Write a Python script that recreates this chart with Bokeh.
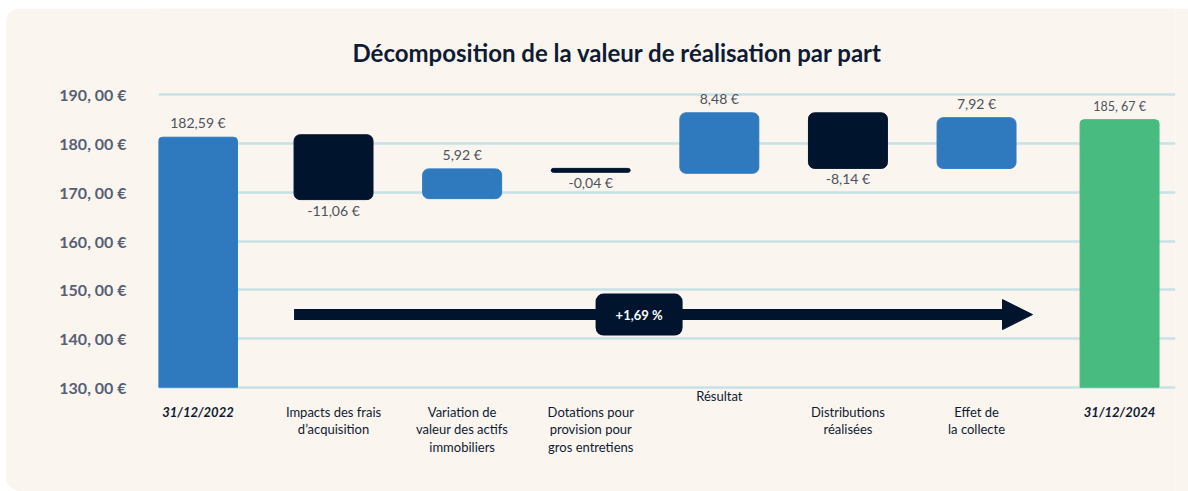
from bokeh.plotting import figure
from bokeh.models import (Range1d, FixedTicker, ColumnDataSource,
                          Label, Arrow, NormalHead)
from bokeh.embed import file_html
from bokeh.resources import INLINE
from bokeh.core.properties import value

# ---------------- data ----------------
title = "Décomposition de la valeur de réalisation par part"
categories = [
    "31/12/2022",
    "Impacts des frais\nd’acquisition",
    "Variation de\nvaleur des actifs\nimmobiliers",
    "Dotations pour\nprovision pour\ngros entretiens",
    "Résultat",
    "Distributions\nréalisées",
    "Effet de\nla collecte",
    "31/12/2024",
]
groups = ["start", "flux", "flux", "flux", "flux", "flux", "flux", "end"]
values = [182.59, -11.06, 5.92, -0.04, 8.48, -8.14, 7.92, 185.67]
# bar extents as drawn in the (schematic) picture
bar_top = [181.3, 181.8, 174.8, 174.9, 186.3, 186.3, 185.3, 184.9]
bar_bottom = [130.0, 168.5, 168.7, 174.1, 173.9, 174.9, 174.9, 130.0]
y_ticks = [130, 140, 150, 160, 170, 180, 190]
y_tick_labels = ["130, 00 €", "140, 00 €", "150, 00 €", "160, 00 €",
                 "170, 00 €", "180, 00 €", "190, 00 €"]

# ---------------- style ----------------
FONT = "Lato"
BLUE = "#2f7abf"
NAVY = "#00142e"
GREEN = "#48bb80"
CREAM = "#faf5ef"
GRID = "#c6e2e7"
TXT = "#4d535c"
AX = "#566075"
DARK = "#0f1b33"

GAP = {"start": 0.0, "flux": 0.054, "end": 0.166}   # cumulative group gaps
PAD_L = 0.307      # frame padding left of first slot centre
PAD_R = 0.435      # frame padding right of last slot centre
BAR_W = 0.614
ARROW_Y = 144.9

def fmt(v):
    s = f"{abs(v):.2f}".replace(".", ",")
    return ("-" if v < 0 else "") + s + " €"

# category slot positions on the x scale (one slot per category, group gaps)
xpos = [0.5 + i + GAP[g] for i, g in enumerate(groups)]

colors = []
for i, v in enumerate(values):
    if groups[i] == "end":
        colors.append(GREEN)
    elif groups[i] == "flux" and v < 0:
        colors.append(NAVY)
    else:
        colors.append(BLUE)

labels = [fmt(v) for v in values]
labels[-1] = f"{values[-1]:.2f}".replace(".", ", ") + " €"

xr = Range1d(start=xpos[0] - PAD_L, end=xpos[-1] + PAD_R)

p = figure(width=1183, height=483, x_range=xr, y_range=Range1d(108.60, 207.71),
           output_backend="svg", toolbar_location=None, x_axis_location=None,
           min_border_left=153, min_border_right=13, min_border_top=0,
           min_border_bottom=0, background_fill_color=CREAM,
           border_fill_color=CREAM, outline_line_color=None)
p.margin = (8, 0, 0, 5)
p.styles = {"border-radius": "16px 0 0 16px", "overflow": "hidden"}
p.xgrid.visible = False

# y axis
p.yaxis.ticker = FixedTicker(ticks=y_ticks)
p.yaxis.major_label_overrides = {t: l for t, l in zip(y_ticks, y_tick_labels)}
p.yaxis.axis_line_color = None
p.yaxis.major_tick_line_color = None
p.yaxis.minor_tick_line_color = None
p.yaxis.major_label_standoff = 26
p.yaxis.major_label_text_font = FONT
p.yaxis.major_label_text_font_size = "16px"
p.yaxis.major_label_text_font_style = "bold"
p.yaxis.major_label_text_color = AX
p.ygrid.grid_line_color = GRID
p.ygrid.grid_line_width = 2.5

# bars
ends = [i for i, g in enumerate(groups) if g != "flux"]
mids = [i for i, g in enumerate(groups) if g == "flux"]
def sub(idx):
    return ColumnDataSource(dict(
        x=[xpos[i] for i in idx], top=[bar_top[i] for i in idx],
        bottom=[bar_bottom[i] for i in idx], color=[colors[i] for i in idx],
        label=[labels[i] for i in idx], cat=[categories[i] for i in idx]))
p.vbar(x="x", top="top", bottom="bottom", width=BAR_W, color="color",
       border_radius=(4, 4, 0, 0), source=sub(ends))
p.vbar(x="x", top="top", bottom="bottom", width=BAR_W, color="color",
       border_radius=6, source=sub(mids))

# value labels
above = [i for i, v in enumerate(values) if groups[i] != "flux" or v >= 0]
below = [i for i, v in enumerate(values) if groups[i] == "flux" and v < 0]
src_a = ColumnDataSource(dict(
    x=[xpos[i] for i in above], y=[bar_top[i] for i in above],
    t=[labels[i] for i in above],
    fs=["12.5px" if groups[i] == "end" else "14px" for i in above]))
p.text(x="x", y="y", text="t", source=src_a, text_align="center",
       text_baseline="bottom", y_offset=-6, text_font=value(FONT),
       text_font_size="fs", text_color=TXT)
src_b = ColumnDataSource(dict(
    x=[xpos[i] for i in below], y=[bar_bottom[i] for i in below],
    t=[labels[i] for i in below]))
p.text(x="x", y="y", text="t", source=src_b, text_align="center",
       text_baseline="top", y_offset=2, text_font=value(FONT),
       text_font_size="14px", text_color=TXT)

# category labels (acting as x axis)
CAT_Y = 126.65
lab_dy = [-16 if c == "Résultat" else 0 for c in categories]
src_d = ColumnDataSource(dict(x=[xpos[i] for i in ends],
                              t=[categories[i] for i in ends]))
p.text(x="x", y=CAT_Y, text="t", source=src_d, text_align="center",
       text_baseline="top", text_font=value(FONT), text_font_size="13px",
       text_font_style="bold italic", text_color=DARK)
src_m = ColumnDataSource(dict(x=[xpos[i] for i in mids],
                              t=[categories[i] for i in mids],
                              dy=[lab_dy[i] for i in mids]))
p.text(x="x", y=CAT_Y, text="t", source=src_m, text_align="center",
       text_baseline="top", y_offset="dy", text_font=value(FONT),
       text_font_size="13px", text_color=DARK, text_line_height=1.12)

# evolution arrow
i0, i1 = 1, 6
change = (values[-1] / values[0] - 1) * 100
change_txt = ("+" if change >= 0 else "") + f"{change:.2f}".replace(".", ",") + " %"
p.add_layout(Arrow(end=NormalHead(size=30, fill_color=NAVY, line_color=NAVY),
                   x_start=xpos[i0] - BAR_W / 2, y_start=ARROW_Y,
                   x_end=xpos[i1] + 0.435, y_end=ARROW_Y,
                   line_color=NAVY, line_width=11))
p.add_layout(Label(x=xpos[3] + 0.376, y=ARROW_Y,
                   text=change_txt, text_color="white", text_font=FONT,
                   text_font_style="bold", text_font_size="13px",
                   text_align="center", text_baseline="middle",
                   background_fill_color=NAVY, border_radius=8,
                   padding=(20, 13)))

# title
p.add_layout(Label(x=xr.start + 459 / 128.6, y=198.68,
                   text=title, text_color=DARK, text_font=FONT,
                   text_font_style="bold", text_font_size="24px",
                   text_align="center", text_baseline="middle"))

open("out.html", "w").write(file_html(p, INLINE))
